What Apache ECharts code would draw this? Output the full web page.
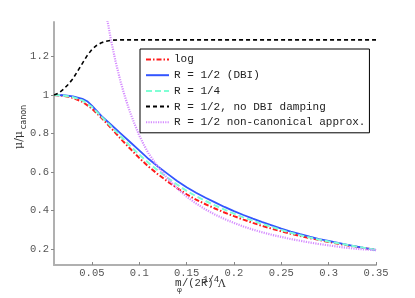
<!DOCTYPE html>
<html>
<head>
<meta charset="utf-8">
<script src="https://cdn.jsdelivr.net/npm/echarts@6/dist/echarts.min.js"></script>
<style>html,body{margin:0;padding:0;background:#fff}#c{width:415px;height:298px}</style>
</head>
<body>
<div id="c"></div>
<script>
// ---- data ----
const seriesNames = ['log', 'R = 1/2 (DBI)', 'R = 1/4', 'R = 1/2, no DBI damping', 'R = 1/2 non-canonical approx.'];
const xTicks = [0.05, 0.1, 0.15, 0.2, 0.25, 0.3, 0.35];
const yTicks = [0.2, 0.4, 0.6, 0.8, 1, 1.2];

const xMain = [0.01,0.02,0.03,0.04,0.05,0.06,0.07,0.08,0.09,0.10,0.11,0.12,0.13,0.14,0.15,0.16,0.17,0.18,0.19,0.20,0.21,0.22,0.23,0.24,0.25,0.26,0.27,0.28,0.29,0.30,0.31,0.32,0.33,0.34,0.35];
const logVals = [1.0,0.996,0.985,0.965,0.93,0.882,0.83,0.775,0.723,0.673,0.627,0.587,0.55,0.516,0.484,0.456,0.432,0.41,0.389,0.37,0.352,0.335,0.319,0.305,0.291,0.279,0.267,0.256,0.246,0.236,0.227,0.218,0.21,0.202,0.195];
const quarterVals = [1.0,0.998,0.989,0.972,0.938,0.888,0.838,0.787,0.738,0.69,0.646,0.606,0.569,0.534,0.502,0.474,0.449,0.426,0.404,0.383,0.364,0.346,0.329,0.314,0.298,0.284,0.271,0.259,0.248,0.238,0.229,0.22,0.211,0.203,0.195];

const xDbi = [0.01,0.02,0.03,0.04,0.045,0.05,0.06,0.07,0.08,0.09,0.10,0.11,0.12,0.13,0.14,0.15,0.16,0.17,0.18,0.19,0.20,0.21,0.22,0.23,0.24,0.25,0.26,0.27,0.28,0.29,0.30,0.31,0.32,0.33,0.34,0.35];
const dbiVals = [1.0,0.999,0.993,0.980,0.968,0.945,0.892,0.847,0.802,0.757,0.712,0.667,0.627,0.59,0.553,0.52,0.492,0.466,0.442,0.418,0.396,0.376,0.357,0.339,0.322,0.305,0.29,0.276,0.263,0.251,0.241,0.231,0.221,0.212,0.203,0.194];

const xNoDamp = [0.01,0.015,0.02,0.025,0.03,0.035,0.04,0.045,0.05,0.055,0.06,0.065,0.07,0.08,0.35];
const noDampVals = [1.0,1.01,1.03,1.055,1.085,1.125,1.165,1.205,1.237,1.258,1.272,1.28,1.285,1.287,1.287];

const xApprox = [0.066,0.07,0.075,0.08,0.085,0.09,0.095,0.10,0.105,0.11,0.12,0.13,0.14,0.15,0.16,0.17,0.18,0.19,0.20,0.21,0.22,0.23,0.24,0.25,0.26,0.27,0.28,0.29,0.30,0.31,0.32,0.33,0.34,0.35];
const approxVals = [1.40,1.29,1.175,1.075,0.99,0.915,0.85,0.79,0.74,0.695,0.625,0.565,0.515,0.472,0.436,0.405,0.378,0.355,0.335,0.316,0.3,0.286,0.273,0.262,0.251,0.242,0.233,0.225,0.218,0.211,0.205,0.2,0.196,0.193];

// ---- build ----
const pairs = (xs, ys) => xs.map((x, i) => [x, ys[i]]);
const mono = 'Liberation Mono, Courier New, monospace';
const axisGray = '#b0b0b0';

const chart = echarts.init(document.getElementById('c'), null, {renderer: 'canvas'});
const mk = (name, data, color, type, width) => ({
  name, type: 'line', data, showSymbol: false, symbol: 'none', clip: true,
  lineStyle: {color, type, width}, itemStyle: {color}, animation: false
});

chart.setOption({
  animation: false,
  grid: {left: 54, right: 39, top: 22, bottom: 33},
  xAxis: {
    type: 'value', min: 0.01, max: 0.35,
    splitLine: {show: false},
    axisLine: {show: true, lineStyle: {color: axisGray, width: 2}},
    axisTick: {show: true, inside: true, length: 3, customValues: xTicks, lineStyle: {color: '#888'}},
    axisLabel: {customValues: xTicks, margin: 3, fontFamily: mono, fontSize: 10.5, color: '#555',
      formatter: v => String(parseFloat(v.toFixed(2)))}
  },
  yAxis: {
    type: 'value', min: 0.116, max: 1.38,
    splitLine: {show: false},
    axisLine: {show: true, lineStyle: {color: axisGray, width: 2}},
    axisTick: {show: true, inside: false, length: 3, customValues: yTicks, lineStyle: {color: '#888'}},
    axisLabel: {customValues: yTicks, margin: 5, fontFamily: mono, fontSize: 10.5, color: '#555',
      formatter: v => String(parseFloat(v.toFixed(2)))}
  },
  legend: {
    show: true, orient: 'vertical', left: 140, top: 49,
    data: seriesNames,
    backgroundColor: '#fff', borderColor: '#000', borderWidth: 1, borderRadius: 0,
    padding: [5, 4, 5, 5], itemWidth: 23, itemHeight: 10, itemGap: 4.7,
    itemStyle: {opacity: 0},
    textStyle: {fontFamily: mono, fontSize: 11, color: '#222'}
  },
  series: [
    mk(seriesNames[0], pairs(xMain, logVals), '#ff1a1a', [5, 2, 1.5, 2], 2),
    mk(seriesNames[1], pairs(xDbi, dbiVals), '#3355ff', 'solid', 1.8),
    mk(seriesNames[2], pairs(xMain, quarterVals), '#7fffd4', [6, 3], 2),
    mk(seriesNames[3], pairs(xNoDamp, noDampVals), '#000000', [4, 3], 1.6),
    mk(seriesNames[4], pairs(xApprox, approxVals), '#d58cff', [1.2, 1.2], 2.2)
  ],
  graphic: [
    {type: 'text', x: 175, y: 283.5, style: {text: 'm', font: '11px ' + mono, fill: '#333', align: 'left', verticalAlign: 'middle'}},
    {type: 'text', x: 177, y: 290, style: {text: 'φ', font: '8px ' + mono, fill: '#333', align: 'left', verticalAlign: 'middle'}},
    {type: 'text', x: 182, y: 283.5, style: {text: '/(2R)', font: '10.5px ' + mono, fill: '#333', align: 'left', verticalAlign: 'middle'}},
    {type: 'text', x: 203, y: 279.5, style: {text: '1/4', font: '9px ' + mono, fill: '#333', align: 'left', verticalAlign: 'middle'}},
    {type: 'text', x: 218, y: 284, style: {text: 'Λ', font: '10.5px DejaVu Serif, serif', fill: '#333', align: 'left', verticalAlign: 'middle'}},
    {type: 'text', x: 19, y: 140, rotation: Math.PI / 2, style: {text: 'μ/μ', font: '11px DejaVu Serif, serif', fill: '#333', align: 'center', verticalAlign: 'middle'}},
    {type: 'text', x: 24, y: 117, rotation: Math.PI / 2, style: {text: 'canon', font: '8px ' + 'DejaVu Sans, sans-serif', fill: '#333', align: 'center', verticalAlign: 'middle'}}
  ]
});
</script>
</body>
</html>
